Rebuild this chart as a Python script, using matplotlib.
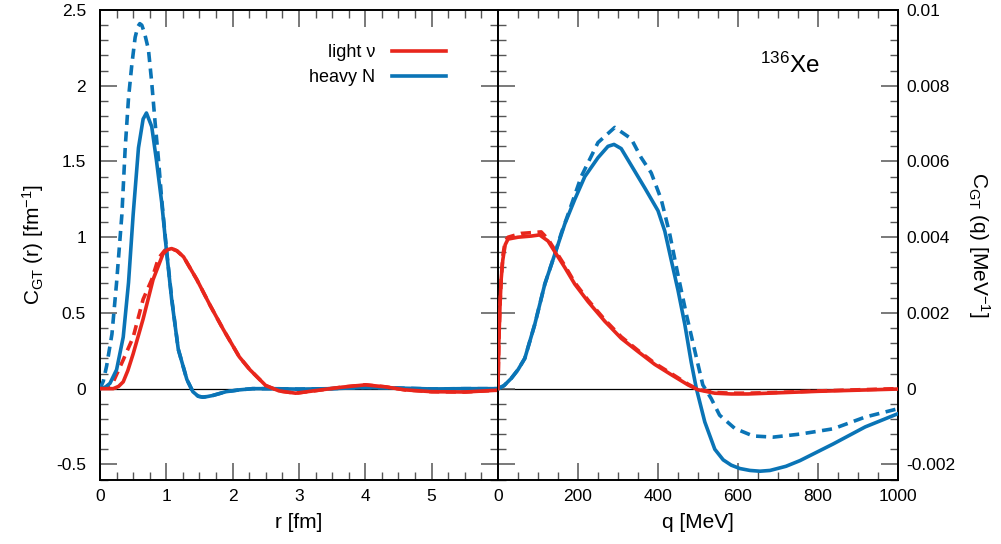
import matplotlib
matplotlib.use('Agg')
import matplotlib.pyplot as plt
from matplotlib.ticker import MultipleLocator, FormatStrFormatter
from matplotlib.lines import Line2D

plt.rcParams['font.family'] = ['Liberation Sans', 'DejaVu Sans']
plt.rcParams['mathtext.default'] = 'regular'
plt.rcParams['axes.unicode_minus'] = False

RED = '#e8261c'
BLUE = '#0a74b6'

# ---- left panel: C_GT(r) [fm^-1] ----
r_blue = [0, 0.08, 0.15, 0.25, 0.35, 0.43, 0.50, 0.58, 0.65, 0.70, 0.78, 0.85, 0.93, 1.0,
          1.08, 1.18, 1.31, 1.40, 1.48, 1.55, 1.62, 1.7, 1.9, 2.1, 2.3, 2.6, 3.0, 3.5, 4.0,
          4.5, 5.0, 5.5, 6.0]
v_blue = [0, 0.01, 0.035, 0.125, 0.34, 0.70, 1.15, 1.59, 1.78, 1.82, 1.73, 1.51, 1.23, 0.92,
          0.59, 0.26, 0.06, -0.02, -0.05, -0.056, -0.052, -0.045, -0.02, -0.008, 0.0, 0.0,
          -0.003, 0.0, 0.008, 0.004, -0.002, 0.0, 0.0]

r_blue_d = [0, 0.05, 0.10, 0.18, 0.25, 0.33, 0.38, 0.43, 0.48, 0.53, 0.57, 0.60, 0.63, 0.67,
            0.73, 0.78, 0.83, 0.88, 0.93, 1.0, 1.08, 1.18, 1.31, 1.40, 1.48, 1.55, 1.62, 1.7,
            1.9, 2.1, 2.3, 2.6, 3.0, 3.5, 4.0, 4.5, 5.0, 5.5, 6.0]
v_blue_d = [0, 0.05, 0.15, 0.36, 0.70, 1.15, 1.59, 1.92, 2.14, 2.32, 2.39, 2.41, 2.40, 2.35,
            2.24, 2.02, 1.76, 1.52, 1.25, 0.93, 0.60, 0.26, 0.06, -0.02, -0.05, -0.056, -0.052,
            -0.045, -0.02, -0.008, 0.0, 0.0, -0.003, 0.0, 0.008, 0.004, -0.002, 0.0, 0.0]

r_red = [0, 0.2, 0.28, 0.35, 0.42, 0.5, 0.65, 0.80, 0.95, 1.02, 1.08, 1.16, 1.26, 1.46, 1.66,
         1.86, 2.1, 2.26, 2.5, 2.7, 2.95, 3.3, 3.65, 4.0, 4.3, 4.6, 5.0, 5.5, 6.0]
v_red = [0, 0.0, 0.015, 0.045, 0.12, 0.23, 0.46, 0.72, 0.89, 0.918, 0.925, 0.91, 0.87, 0.72,
         0.55, 0.39, 0.21, 0.125, 0.02, -0.015, -0.03, -0.01, 0.01, 0.025, 0.012, -0.008,
         -0.02, -0.022, -0.01]

r_red_d = [0, 0.1, 0.2, 0.35, 0.5, 0.65, 0.78, 0.88, 0.98, 1.08, 1.16, 1.26, 1.46, 1.66, 1.86,
           2.1, 2.26, 2.5, 2.7, 2.95, 3.3, 3.65, 4.0, 4.3, 4.6, 5.0, 5.5, 6.0]
v_red_d = [0, 0.01, 0.045, 0.19, 0.34, 0.59, 0.72, 0.86, 0.915, 0.925, 0.91, 0.87, 0.72, 0.55,
           0.39, 0.21, 0.125, 0.02, -0.015, -0.03, -0.01, 0.01, 0.025, 0.012, -0.008, -0.02,
           -0.022, -0.01]

# ---- right panel: C_GT(q) [MeV^-1] ----
q_red = [0, 2, 5, 8, 12, 18, 25, 50, 83, 104, 125, 146, 167, 192, 225, 267, 308, 350, 392,
         433, 475, 500, 542, 583, 625, 700, 800, 900, 1000]
c_red = [0, 0.0012, 0.0022, 0.0029, 0.0034, 0.0038, 0.00395, 0.0040, 0.00403, 0.00406, 0.0039,
         0.00355, 0.0032, 0.00276, 0.0023, 0.00178, 0.00133, 0.00098, 0.00064, 0.00037, 0.0001,
         -0.00003, -0.00012, -0.00014, -0.00014, -0.00011, -0.00007, -0.00004, -0.00001]

q_red_d = [0, 2, 5, 8, 12, 18, 25, 58, 108, 125, 146, 167, 192, 225, 267, 308, 350, 392,
           433, 475, 500, 542, 583, 625, 700, 800, 900, 1000]
c_red_d = [0, 0.0012, 0.0022, 0.0029, 0.0035, 0.0039, 0.0040, 0.0041, 0.00414, 0.00395, 0.0036,
           0.00325, 0.0028, 0.00234, 0.00182, 0.00137, 0.00101, 0.00067, 0.0004, 0.00012,
           -0.00002, -0.0001, -0.00012, -0.00012, -0.0001, -0.00006, -0.00003, 0.0]

q_blue = [0, 15, 33, 50, 67, 92, 117, 142, 167, 192, 217, 250, 275, 290, 308, 333, 367, 400,
          417, 433, 450, 467, 483, 496, 517, 542, 563, 583, 605, 630, 655, 680, 720, 755, 838,
          918, 1000]
c_blue = [0, 0.00008, 0.00027, 0.0005, 0.0008, 0.0017, 0.00276, 0.00355, 0.00435, 0.0050,
          0.0056, 0.0061, 0.0064, 0.00645, 0.00634, 0.0059, 0.0053, 0.0047, 0.00416, 0.0034,
          0.0026, 0.0017, 0.0007, 0.0, -0.00088, -0.0016, -0.00188, -0.00202, -0.00211,
          -0.00216, -0.00218, -0.00216, -0.00205, -0.0019, -0.00146, -0.00101, -0.00066]

q_blue_d = [0, 15, 33, 50, 67, 92, 117, 142, 158, 175, 208, 250, 292, 333, 358, 383, 408,
            429, 450, 471, 492, 512, 533, 554, 592, 638, 688, 755, 838, 918, 1000]
c_blue_d = [0, 0.00008, 0.00027, 0.0005, 0.0008, 0.0017, 0.00276, 0.00355, 0.0041, 0.0046,
            0.0056, 0.0065, 0.0069, 0.0066, 0.0061, 0.0057, 0.0050, 0.0041, 0.0030, 0.00196,
            0.001, 0.0001, -0.00026, -0.0007, -0.00105, -0.00125, -0.00128, -0.0012, -0.00106,
            -0.00075, -0.00053]

fig = plt.figure(figsize=(10.01, 5.44), dpi=100)
axL = fig.add_axes([0.0999, 0.1185, 0.3976, 0.8631])
axR = fig.add_axes([0.4975, 0.1185, 0.3996, 0.8631])

LW = 2.6
DASH = (2.8, 1.8)

for ax in (axL, axR):
    ax.axhline(0, color='black', lw=0.9, zorder=1)

axL.plot(r_blue_d, v_blue_d, color=BLUE, lw=LW, dashes=DASH, zorder=3)
axL.plot(r_red_d, v_red_d, color=RED, lw=LW, dashes=DASH, zorder=3)
axL.plot(r_blue, v_blue, color=BLUE, lw=LW, zorder=4)
axL.plot(r_red, v_red, color=RED, lw=LW, zorder=5)

axR.plot(q_blue_d, c_blue_d, color=BLUE, lw=LW, dashes=DASH, zorder=3)
axR.plot(q_red_d, c_red_d, color=RED, lw=LW, dashes=DASH, zorder=3)
axR.plot(q_blue, c_blue, color=BLUE, lw=LW, zorder=4)
axR.plot(q_red, c_red, color=RED, lw=LW, zorder=5)

axL.set_xlim(0, 6)
axL.set_ylim(-0.6, 2.5)
axR.set_xlim(0, 1000)
axR.set_ylim(-0.0024, 0.01)

axL.set_xticks([0, 1, 2, 3, 4, 5])
axL.xaxis.set_minor_locator(MultipleLocator(0.25))
axL.yaxis.set_major_locator(MultipleLocator(0.5))
axL.yaxis.set_minor_locator(MultipleLocator(0.1))
axL.yaxis.set_major_formatter(FormatStrFormatter('%g'))

axR.xaxis.set_major_locator(MultipleLocator(200))
axR.xaxis.set_minor_locator(MultipleLocator(50))
axR.yaxis.set_major_locator(MultipleLocator(0.002))
axR.yaxis.set_minor_locator(MultipleLocator(0.0004))
axR.yaxis.set_major_formatter(FormatStrFormatter('%g'))

for ax in (axL, axR):
    ax.tick_params(which='both', direction='in', top=True, right=True, left=True, bottom=True,
                   color='#555555', labelsize=12.5)
    ax.tick_params(which='major', length=12, width=1.1)
    ax.tick_params(which='minor', length=6, width=1.0)
    ax.tick_params(axis='x', pad=7)
    for s in ax.spines.values():
        s.set_linewidth(1.4)

axL.tick_params(axis='y', pad=10)
axR.tick_params(axis='y', labelleft=False, labelright=True, pad=6)

axL.set_xlabel('r [fm]', fontsize=15, labelpad=6)
axR.set_xlabel('q [MeV]', fontsize=15, labelpad=6)
axL.set_ylabel('C$_{GT}$ (r) [fm$^{-1}$]', fontsize=15, labelpad=7)
axR.yaxis.set_label_position('right')
axR.set_ylabel('C$_{GT}$ (q) [MeV$^{-1}$]', fontsize=15, rotation=-90, labelpad=26)

handles = [Line2D([], [], color=RED, lw=LW), Line2D([], [], color=BLUE, lw=LW)]
axL.legend(handles, ['light ν', 'heavy N'], loc='upper right', bbox_to_anchor=(0.91, 0.962),
           frameon=False, markerfirst=False, fontsize=13, handlelength=3.0, handletextpad=0.9,
           labelspacing=0.45)

axR.text(0.655, 0.865, '$^{136}$Xe', transform=axR.transAxes, fontsize=17.5, va='baseline')

fig.savefig('out.png', dpi=100)
